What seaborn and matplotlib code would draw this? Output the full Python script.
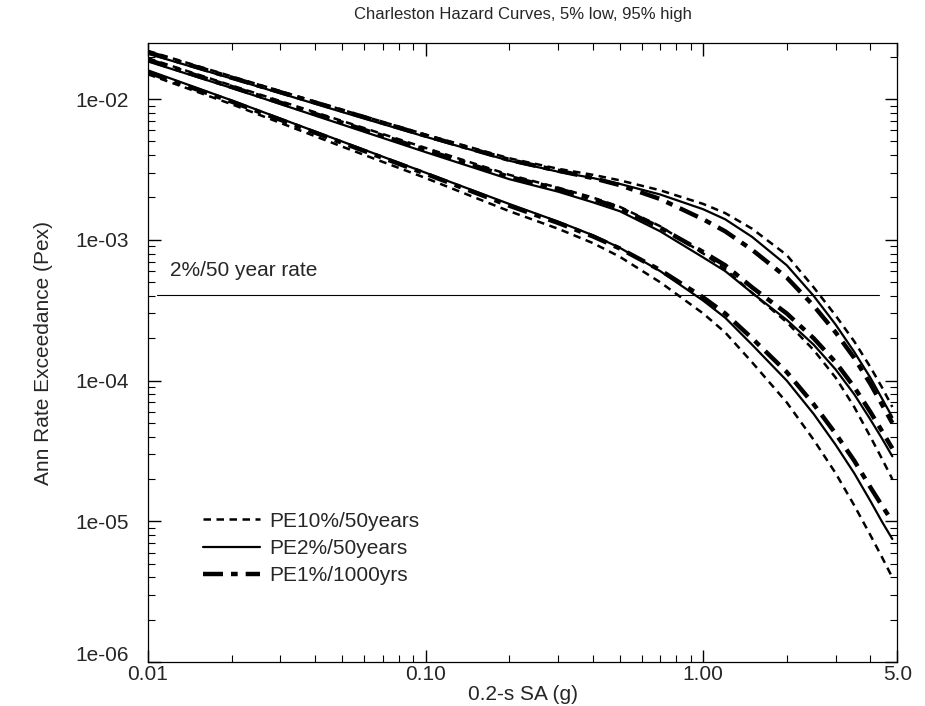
import numpy as np
import pandas as pd
import matplotlib
matplotlib.use("Agg")
import matplotlib.pyplot as plt
import matplotlib.transforms as mtransforms
from matplotlib.lines import Line2D
from matplotlib.ticker import FuncFormatter, LogLocator, NullFormatter
import seaborn as sns

# spectral acceleration points (g)
sa = [0.01, 0.02, 0.05, 0.1, 0.2, 0.3, 0.4, 0.5, 0.7, 1.0, 1.2, 1.5, 2.0, 2.5, 3.0, 3.5, 4.0, 4.4, 4.8]

# high fractile group
high_pe10 = [2.2e-2, 1.45e-2, 8.4e-3, 5.6e-3, 3.8e-3, 3.2e-3, 2.9e-3, 2.65e-3, 2.25e-3, 1.8e-3, 1.55e-3, 1.2e-3, 7.8e-4, 4.6e-4, 2.9e-4, 1.9e-4, 1.25e-4, 9.0e-5, 6.5e-5]
high_pe2 = [2.1e-2, 1.4e-2, 8.1e-3, 5.4e-3, 3.65e-3, 3.05e-3, 2.75e-3, 2.5e-3, 2.1e-3, 1.65e-3, 1.4e-3, 1.05e-3, 6.6e-4, 4.0e-4, 2.5e-4, 1.6e-4, 1.05e-4, 7.5e-5, 5.5e-5]
high_pe1 = [2.15e-2, 1.42e-2, 8.3e-3, 5.5e-3, 3.7e-3, 3.1e-3, 2.75e-3, 2.45e-3, 1.95e-3, 1.4e-3, 1.15e-3, 8.5e-4, 5.4e-4, 3.4e-4, 2.2e-4, 1.45e-4, 9.5e-5, 6.8e-5, 5.0e-5]

# middle group
mid_pe10 = [1.95e-2, 1.25e-2, 7.0e-3, 4.5e-3, 2.9e-3, 2.35e-3, 2.0e-3, 1.72e-3, 1.25e-3, 8.0e-4, 6.2e-4, 4.2e-4, 2.6e-4, 1.65e-4, 1.05e-4, 6.5e-5, 4.0e-5, 2.8e-5, 2.0e-5]
mid_pe2 = [1.85e-2, 1.2e-2, 6.6e-3, 4.2e-3, 2.7e-3, 2.2e-3, 1.85e-3, 1.6e-3, 1.15e-3, 7.5e-4, 6.0e-4, 4.2e-4, 2.7e-4, 1.8e-4, 1.2e-4, 8.0e-5, 5.3e-5, 3.9e-5, 2.9e-5]
mid_pe1 = [1.9e-2, 1.22e-2, 6.8e-3, 4.35e-3, 2.8e-3, 2.3e-3, 1.95e-3, 1.68e-3, 1.22e-3, 8.2e-4, 6.6e-4, 4.6e-4, 3.0e-4, 2.0e-4, 1.35e-4, 9.0e-5, 6.0e-5, 4.4e-5, 3.3e-5]

# low fractile group
low_pe10 = [1.5e-2, 9.2e-3, 4.6e-3, 2.75e-3, 1.6e-3, 1.2e-3, 9.5e-4, 7.6e-4, 5.0e-4, 3.0e-4, 2.2e-4, 1.35e-4, 7.0e-5, 3.8e-5, 2.2e-5, 1.3e-5, 8.0e-6, 5.6e-6, 4.0e-6]
low_pe2 = [1.6e-2, 9.8e-3, 5.0e-3, 3.0e-3, 1.8e-3, 1.35e-3, 1.08e-3, 8.8e-4, 6.0e-4, 3.7e-4, 2.8e-4, 1.8e-4, 1.0e-4, 5.8e-5, 3.5e-5, 2.2e-5, 1.4e-5, 1.0e-5, 7.5e-6]
low_pe1 = [1.55e-2, 9.6e-3, 4.9e-3, 2.95e-3, 1.75e-3, 1.32e-3, 1.06e-3, 8.7e-4, 6.1e-4, 3.9e-4, 3.0e-4, 2.0e-4, 1.15e-4, 6.8e-5, 4.2e-5, 2.7e-5, 1.75e-5, 1.3e-5, 1.0e-5]

pe_labels = ["PE10%/50years", "PE2%/50years", "PE1%/1000yrs"]
rate_2in50 = 4.04e-4

curves = {
    ("high", pe_labels[0]): high_pe10, ("high", pe_labels[1]): high_pe2, ("high", pe_labels[2]): high_pe1,
    ("mid", pe_labels[0]): mid_pe10, ("mid", pe_labels[1]): mid_pe2, ("mid", pe_labels[2]): mid_pe1,
    ("low", pe_labels[0]): low_pe10, ("low", pe_labels[1]): low_pe2, ("low", pe_labels[2]): low_pe1,
}
rows = []
for (frac, pe), vals in curves.items():
    for x, y in zip(sa, vals):
        rows.append({"curve": frac + pe, "pe": pe, "sa": x, "rate": y})
df = pd.DataFrame(rows)

sns.set_style("ticks")
plt.rcParams["font.family"] = ["Liberation Sans", "DejaVu Sans"]

dashes = {pe_labels[0]: (3, 2.2), pe_labels[1]: "", pe_labels[2]: (4.5, 1.8, 1.5, 1.8)}
widths = {pe_labels[0]: 1.8, pe_labels[1]: 1.6, pe_labels[2]: 3.2}

fig = plt.figure(figsize=(9.25, 7.06), dpi=100)
ax = fig.add_axes([0.16, 0.062, 0.81, 0.877])

sns.lineplot(data=df, x="sa", y="rate", units="curve", estimator=None,
             style="pe", dashes=dashes, size="pe", sizes=widths,
             color="black", legend=False, ax=ax)

ax.set_xscale("log")
ax.set_yscale("log")
ax.set_xlim(0.01, 5.0)
ax.set_ylim(1e-6, 2.5e-2)

# 2% in 50 years reference rate
ax.plot([0.0108, 4.3], [rate_2in50, rate_2in50], color="black", lw=0.8)
ax.text(0.012, 5.2e-4, "2%/50 year rate", fontsize=15, ha="left", va="bottom")

ax.set_xticks([0.01, 0.1, 1.0, 5.0])
ax.set_xticklabels(["0.01", "0.10", "1.00", "5.0"])
ax.xaxis.set_minor_locator(LogLocator(base=10, subs=np.arange(2, 10)))
ax.xaxis.set_minor_formatter(NullFormatter())
ax.yaxis.set_major_locator(LogLocator(base=10, numticks=10))
ax.yaxis.set_minor_locator(LogLocator(base=10, subs=np.arange(2, 10), numticks=20))
ax.yaxis.set_major_formatter(FuncFormatter(lambda v, p: f"{v:.0e}"))
ax.yaxis.set_minor_formatter(NullFormatter())
ax.tick_params(which="both", direction="in", top=True, right=True, labelsize=15, color="black")
ax.tick_params(which="major", length=9, width=1.0)
ax.tick_params(which="minor", length=5, width=0.8)
ax.tick_params(axis="x", which="major", pad=2)
ax.tick_params(axis="y", which="major", pad=14)
for s in ax.spines.values():
    s.set_linewidth(0.9)
    s.set_color("black")

ax.set_xlabel("0.2-s SA (g)", fontsize=15, labelpad=1)
ax.set_ylabel("Ann Rate Exceedance (Pex)", fontsize=15, labelpad=16)
ax.set_title("Charleston Hazard Curves, 5% low, 95% high", fontsize=12, pad=17)

# lift the lowest y label so it clears the first x label
fig.canvas.draw()
for lab in ax.get_yticklabels():
    if lab.get_text() == "1e-06":
        lab.set_transform(lab.get_transform() + mtransforms.ScaledTranslation(0, 6 / 72, fig.dpi_scale_trans))

handles = [
    Line2D([], [], color="black", lw=widths[pe_labels[0]], dashes=dashes[pe_labels[0]]),
    Line2D([], [], color="black", lw=widths[pe_labels[1]], linestyle="-"),
    Line2D([], [], color="black", lw=widths[pe_labels[2]], dashes=dashes[pe_labels[2]]),
]
ax.legend(handles, pe_labels, loc="upper left", bbox_to_anchor=(0.074, 0.243),
          frameon=False, fontsize=15, handlelength=2.7, labelspacing=0.4,
          handletextpad=0.45, borderpad=0, borderaxespad=0)

fig.savefig("out.png", dpi=100)
